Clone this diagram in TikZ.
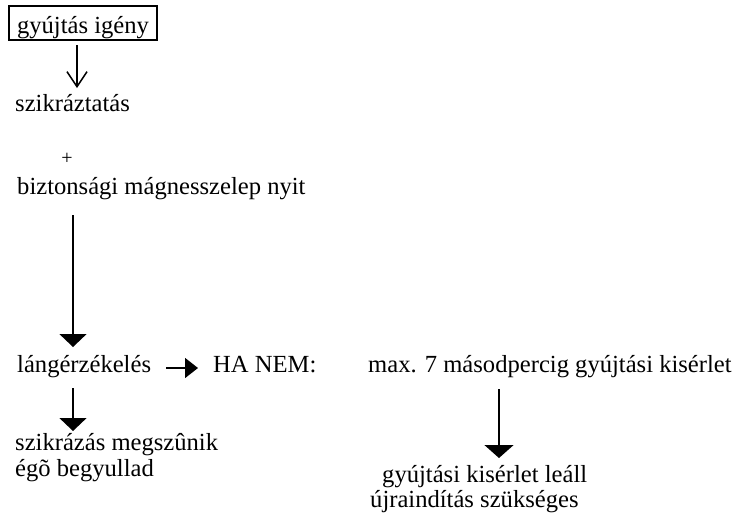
\documentclass[tikz,border=0pt]{standalone}
\usepackage{fontspec}
\setmainfont{Liberation Serif}
\usetikzlibrary{arrows.meta}

\begin{document}
\begin{tikzpicture}[x=1pt,y=-1pt,
  txt/.style={anchor=base west,inner sep=0pt,font=\fontsize{24.6}{28}\selectfont},
  flow/.style={line width=1.5pt},
  solidhead/.style={flow,-{Triangle[length=13pt,width=27pt]}},
  openhead/.style={flow,-{Straight Barb[length=15pt,width=20pt,line width=1.5pt]}}]
  \useasboundingbox (0,0) rectangle (738,520);

  % boxed start step
  \node[draw,line width=1.2pt,inner sep=0pt,minimum width=148pt,
        text height=25pt,text depth=5pt,inner ysep=2pt,anchor=base,
        font=\fontsize{24.6}{28}\selectfont] (start) at (83,33) {gyújtás igény};

  % left column
  \node[txt] (spark) at (15,111) {szikráztatás};
  \node[anchor=center,inner sep=0pt,font=\fontsize{20}{24}\selectfont] (plus) at (67,159) {+};
  \node[txt] (valve) at (17,194) {biztonsági mágnesszelep nyit};
  \node[txt] (flame) at (17,372) {lángérzékelés};
  \node[txt] (ifnot) at (213,372) {HA NEM:};
  \node[txt] (stop1) at (15,450) {szikrázás megszûnik};
  \node[txt] (stop2) at (15,476) {égõ begyullad};

  % right column
  \node[txt] (trial) at (368,372) {max. 7 másodpercig gyújtási kisérlet};
  \node[txt] (halt1) at (382,482) {gyújtási kisérlet leáll};
  \node[txt] (halt2) at (370,507) {újraindítás szükséges};

  % connector end points
  \coordinate (a1s) at (77,45);
  \coordinate (a1e) at (77,88);
  \coordinate (a2s) at (73,215);
  \coordinate (a2e) at (73,347);
  \coordinate (a3s) at (166,368);
  \coordinate (a3e) at (198,368);
  \coordinate (a4s) at (73,388);
  \coordinate (a4e) at (73,431);
  \coordinate (a5s) at (499,389);
  \coordinate (a5e) at (499,458);

  \draw[openhead]  (a1s) -- (a1e);
  \draw[solidhead] (a2s) -- (a2e);
  \draw[flow,-{Triangle[length=13pt,width=20pt]}] (a3s) -- (a3e);
  \draw[solidhead] (a4s) -- (a4e);
  \draw[flow,-{Triangle[length=13pt,width=29pt]}] (a5s) -- (a5e);
\end{tikzpicture}
\end{document}
